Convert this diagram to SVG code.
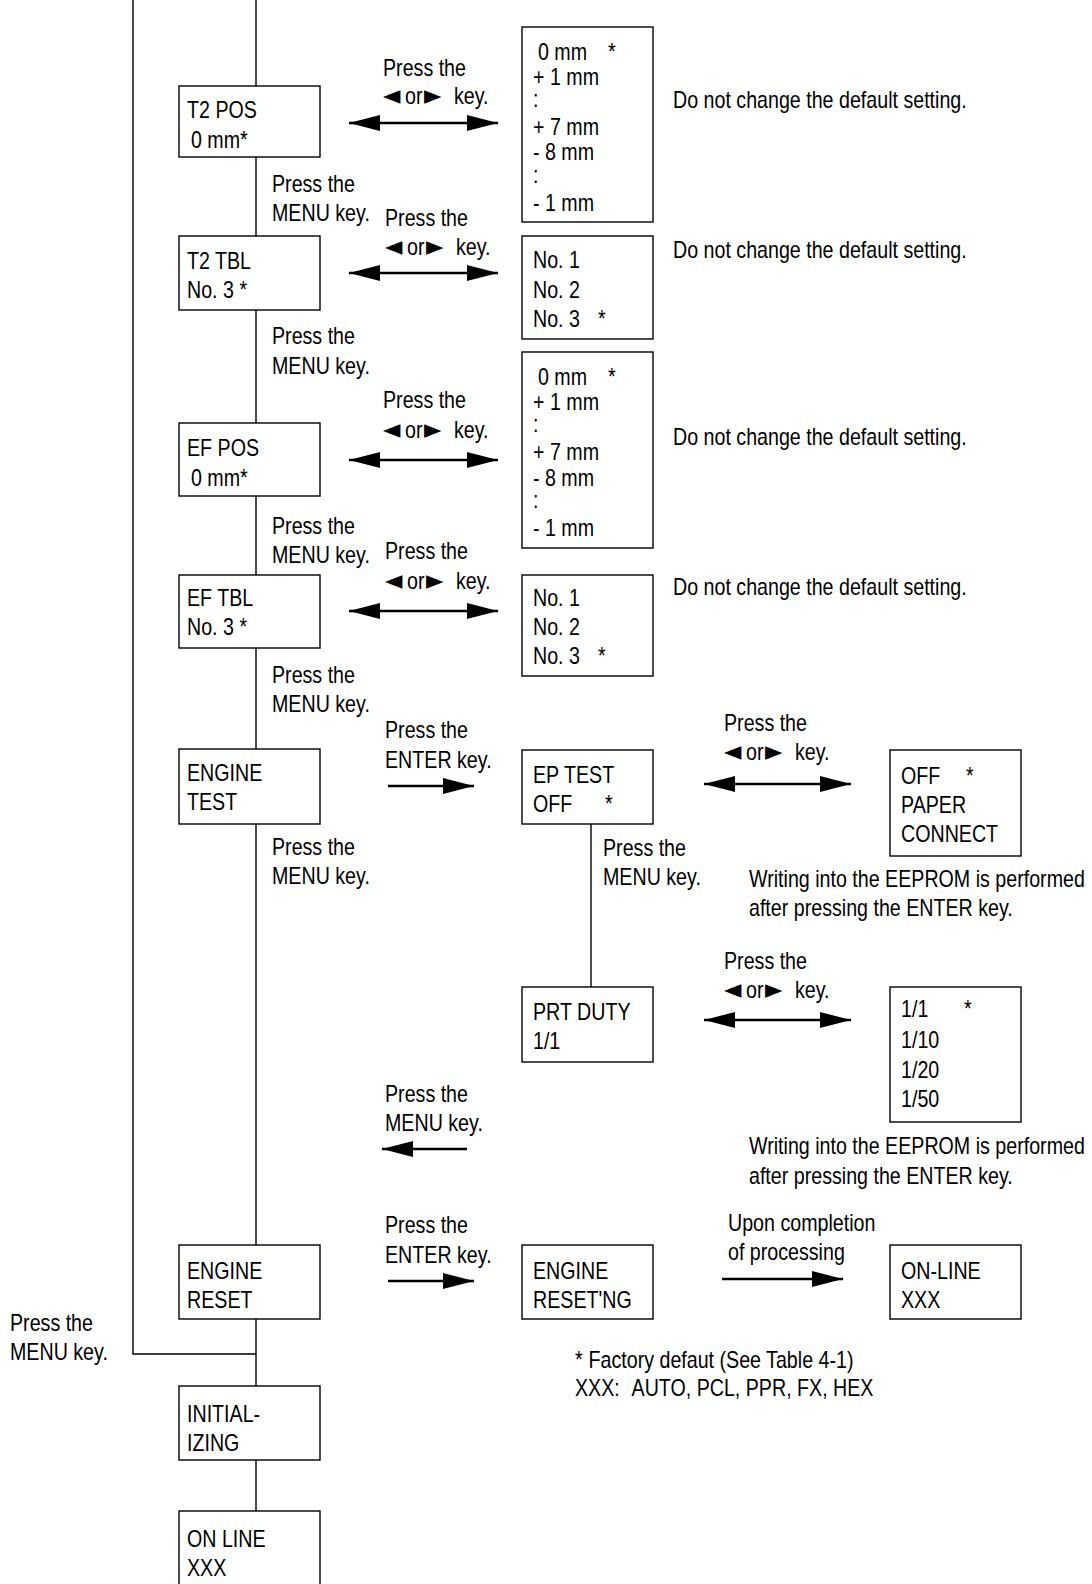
<svg xmlns="http://www.w3.org/2000/svg" width="1092" height="1584" viewBox="0 0 1092 1584">
<style>
text{font-family:"Liberation Sans",Arial,sans-serif;font-size:23.4px;fill:#000}
.sym{font-family:"DejaVu Sans",sans-serif;font-size:27px}
.box{fill:#fff;stroke:#000;stroke-width:1.4}
.ln{fill:none;stroke:#000;stroke-width:1.4}
.arr{fill:none;stroke:#000;stroke-width:2.4}
</style>
<defs>
<marker id="ah" markerUnits="userSpaceOnUse" markerWidth="32" markerHeight="18" refX="31" refY="8" orient="auto-start-reverse" viewBox="0 0 32 16">
<path d="M0,0 L31,8 L0,16 z" fill="#000"/>
</marker>
</defs>
<rect width="1092" height="1584" fill="#fff"/>
<g id="connectors">
<path class="ln" d="M133,0 V1354 H256"/>
<path class="ln" d="M256,0 V1511"/>
<path class="ln" d="M591,824 V987"/>
<line class="arr" x1="349" y1="123" x2="498" y2="123" marker-start="url(#ah)" marker-end="url(#ah)"/>
<line class="arr" x1="349" y1="273" x2="498" y2="273" marker-start="url(#ah)" marker-end="url(#ah)"/>
<line class="arr" x1="349" y1="460" x2="498" y2="460" marker-start="url(#ah)" marker-end="url(#ah)"/>
<line class="arr" x1="349" y1="611" x2="498" y2="611" marker-start="url(#ah)" marker-end="url(#ah)"/>
<line class="arr" x1="388" y1="786" x2="474" y2="786" marker-end="url(#ah)"/>
<line class="arr" x1="704" y1="784" x2="851" y2="784" marker-start="url(#ah)" marker-end="url(#ah)"/>
<line class="arr" x1="704" y1="1020" x2="851" y2="1020" marker-start="url(#ah)" marker-end="url(#ah)"/>
<line class="arr" x1="467" y1="1149" x2="382" y2="1149" marker-end="url(#ah)"/>
<line class="arr" x1="388" y1="1281" x2="474" y2="1281" marker-end="url(#ah)"/>
<line class="arr" x1="722" y1="1279" x2="843" y2="1279" marker-end="url(#ah)"/>
</g>
<g id="labels" transform="scale(0.84,1)">
<text x="455.95" y="76">Press the</text>
<text y="104"><tspan class="sym" x="455.95">◄</tspan><tspan x="482.15">or</tspan><tspan class="sym" x="504.75">►</tspan><tspan x="540.45">key.</tspan></text>
<text x="801.19" y="108">Do not change the default setting.</text>
<text x="323.81" y="192">Press the</text>
<text x="323.81" y="221">MENU key.</text>
<text x="458.33" y="226">Press the</text>
<text y="255"><tspan class="sym" x="458.33">◄</tspan><tspan x="484.53">or</tspan><tspan class="sym" x="507.13">►</tspan><tspan x="542.83">key.</tspan></text>
<text x="801.19" y="258">Do not change the default setting.</text>
<text x="323.81" y="344">Press the</text>
<text x="323.81" y="374">MENU key.</text>
<text x="455.95" y="408">Press the</text>
<text y="438"><tspan class="sym" x="455.95">◄</tspan><tspan x="482.15">or</tspan><tspan class="sym" x="504.75">►</tspan><tspan x="540.45">key.</tspan></text>
<text x="801.19" y="445">Do not change the default setting.</text>
<text x="323.81" y="534">Press the</text>
<text x="323.81" y="563">MENU key.</text>
<text x="458.33" y="559">Press the</text>
<text y="589"><tspan class="sym" x="458.33">◄</tspan><tspan x="484.53">or</tspan><tspan class="sym" x="507.13">►</tspan><tspan x="542.83">key.</tspan></text>
<text x="801.19" y="595">Do not change the default setting.</text>
<text x="323.81" y="683">Press the</text>
<text x="323.81" y="712">MENU key.</text>
<text x="458.33" y="738">Press the</text>
<text x="458.33" y="768">ENTER key.</text>
<text x="861.90" y="731">Press the</text>
<text y="760"><tspan class="sym" x="861.90">◄</tspan><tspan x="888.1">or</tspan><tspan class="sym" x="910.7">►</tspan><tspan x="946.4">key.</tspan></text>
<text x="323.81" y="855">Press the</text>
<text x="323.81" y="884">MENU key.</text>
<text x="717.86" y="856">Press the</text>
<text x="717.86" y="885">MENU key.</text>
<text x="891.67" y="887">Writing into the EEPROM is performed</text>
<text x="891.67" y="916">after pressing the ENTER key.</text>
<text x="861.90" y="969">Press the</text>
<text y="998"><tspan class="sym" x="861.90">◄</tspan><tspan x="888.1">or</tspan><tspan class="sym" x="910.7">►</tspan><tspan x="946.4">key.</tspan></text>
<text x="458.33" y="1102">Press the</text>
<text x="458.33" y="1131">MENU key.</text>
<text x="891.67" y="1154">Writing into the EEPROM is performed</text>
<text x="891.67" y="1184">after pressing the ENTER key.</text>
<text x="458.33" y="1233">Press the</text>
<text x="458.33" y="1263">ENTER key.</text>
<text x="866.67" y="1231">Upon completion</text>
<text x="866.67" y="1260">of processing</text>
<text x="11.90" y="1331">Press the</text>
<text x="11.90" y="1360">MENU key.</text>
<text x="684.52" y="1368">*<tspan dx="7">Factory defaut (See Table 4-1)</tspan></text>
<text x="684.52" y="1396">XXX:<tspan dx="14">AUTO, PCL, PPR, FX, HEX</tspan></text>
</g>
<g id="t2pos"><rect class="box" x="179" y="86" width="141" height="71"/><g transform="scale(0.84,1)"><text x="222.62" y="118">T2 POS</text><text x="227.38" y="148">0 mm*</text></g></g>
<g id="t2pos-list"><rect class="box" x="522" y="27" width="131" height="195"/><g transform="scale(0.84,1)">
<text x="640.48" y="60">0 mm</text><text x="723.81" y="60">*</text>
<text x="634.52" y="85">+ 1 mm</text><text x="634.52" y="107">:</text>
<text x="634.52" y="135">+ 7 mm</text><text x="634.52" y="160">- 8 mm</text>
<text x="634.52" y="183">:</text><text x="634.52" y="211">- 1 mm</text></g></g>
<g id="t2tbl"><rect class="box" x="179" y="236" width="141" height="74"/><g transform="scale(0.84,1)"><text x="222.62" y="269">T2 TBL</text><text x="222.62" y="298">No. 3 *</text></g></g>
<g id="t2tbl-list"><rect class="box" x="522" y="236" width="131" height="103"/><g transform="scale(0.84,1)">
<text x="634.52" y="268">No. 1</text><text x="634.52" y="298">No. 2</text><text x="634.52" y="327">No. 3</text><text x="711.90" y="327">*</text></g></g>
<g id="efpos"><rect class="box" x="179" y="423" width="141" height="73"/><g transform="scale(0.84,1)"><text x="222.62" y="456">EF POS</text><text x="227.38" y="486">0 mm*</text></g></g>
<g id="efpos-list"><rect class="box" x="522" y="352" width="131" height="196"/><g transform="scale(0.84,1)">
<text x="640.48" y="385">0 mm</text><text x="723.81" y="385">*</text>
<text x="634.52" y="410">+ 1 mm</text><text x="634.52" y="432">:</text>
<text x="634.52" y="460">+ 7 mm</text><text x="634.52" y="486">- 8 mm</text>
<text x="634.52" y="508">:</text><text x="634.52" y="536">- 1 mm</text></g></g>
<g id="eftbl"><rect class="box" x="179" y="575" width="141" height="73"/><g transform="scale(0.84,1)"><text x="222.62" y="606">EF TBL</text><text x="222.62" y="635">No. 3 *</text></g></g>
<g id="eftbl-list"><rect class="box" x="522" y="575" width="131" height="101"/><g transform="scale(0.84,1)">
<text x="634.52" y="606">No. 1</text><text x="634.52" y="635">No. 2</text><text x="634.52" y="664">No. 3</text><text x="711.90" y="664">*</text></g></g>
<g id="enginetest"><rect class="box" x="179" y="749" width="141" height="75"/><g transform="scale(0.84,1)"><text x="222.62" y="781">ENGINE</text><text x="222.62" y="810">TEST</text></g></g>
<g id="eptest"><rect class="box" x="522" y="750" width="131" height="74"/><g transform="scale(0.84,1)"><text x="634.52" y="783">EP TEST</text><text x="634.52" y="812">OFF</text><text x="720.24" y="812">*</text></g></g>
<g id="eptest-list"><rect class="box" x="890" y="750" width="131" height="106"/><g transform="scale(0.84,1)">
<text x="1072.62" y="784">OFF</text><text x="1150" y="784">*</text><text x="1072.62" y="813">PAPER</text><text x="1072.62" y="842">CONNECT</text></g></g>
<g id="prtduty"><rect class="box" x="522" y="987" width="131" height="75"/><g transform="scale(0.84,1)"><text x="634.52" y="1020">PRT DUTY</text><text x="634.52" y="1049">1/1</text></g></g>
<g id="prtduty-list"><rect class="box" x="890" y="987" width="131" height="135"/><g transform="scale(0.84,1)">
<text x="1072.62" y="1017">1/1</text><text x="1147.62" y="1017">*</text><text x="1072.62" y="1048">1/10</text><text x="1072.62" y="1078">1/20</text><text x="1072.62" y="1107">1/50</text></g></g>
<g id="enginereset"><rect class="box" x="179" y="1245" width="141" height="74"/><g transform="scale(0.84,1)"><text x="222.62" y="1279">ENGINE</text><text x="222.62" y="1308">RESET</text></g></g>
<g id="resetting"><rect class="box" x="522" y="1245" width="131" height="74"/><g transform="scale(0.84,1)"><text x="634.52" y="1279">ENGINE</text><text x="634.52" y="1308">RESET'NG</text></g></g>
<g id="online-right"><rect class="box" x="890" y="1245" width="131" height="74"/><g transform="scale(0.84,1)"><text x="1072.62" y="1279">ON-LINE</text><text x="1072.62" y="1308">XXX</text></g></g>
<g id="initializing"><rect class="box" x="179" y="1386" width="141" height="74"/><g transform="scale(0.84,1)"><text x="222.62" y="1422">INITIAL-</text><text x="222.62" y="1451">IZING</text></g></g>
<g id="online"><rect class="box" x="179" y="1511" width="141" height="80"/><g transform="scale(0.84,1)"><text x="222.62" y="1547">ON LINE</text><text x="222.62" y="1576">XXX</text></g></g>
</svg>
